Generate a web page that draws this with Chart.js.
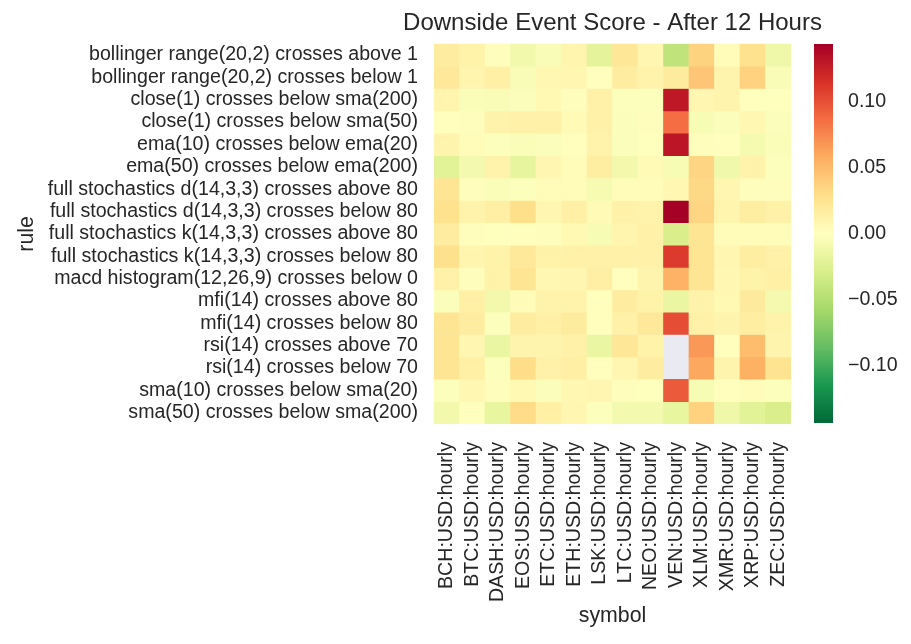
<!DOCTYPE html>
<html lang="en">
  <head>
    <meta charset="UTF-8" />
    <title>Downside Event Score - After 12 Hours</title>
    <script src="https://cdn.jsdelivr.net/npm/chart.js"></script>
    <style>
      html, body { margin: 0; padding: 0; background: #fff; }
      .wrap { position: relative; width: 911px; height: 644px; }
      .wrap canvas { position: absolute; left: 0; top: 0; }
    </style>
  </head>
  <body>
    <div class="wrap">
      <canvas id="heatmap" width="911" height="644"></canvas>
      <canvas id="colorbar" width="911" height="644"></canvas>
    </div>

    <script>
      var symbols = [
        "BCH:USD:hourly", "BTC:USD:hourly", "DASH:USD:hourly", "EOS:USD:hourly",
        "ETC:USD:hourly", "ETH:USD:hourly", "LSK:USD:hourly", "LTC:USD:hourly",
        "NEO:USD:hourly", "VEN:USD:hourly", "XLM:USD:hourly", "XMR:USD:hourly",
        "XRP:USD:hourly", "ZEC:USD:hourly"
      ];

      var rules = [
        "bollinger range(20,2) crosses above 1",
        "bollinger range(20,2) crosses below 1",
        "close(1) crosses below sma(200)",
        "close(1) crosses below sma(50)",
        "ema(10) crosses below ema(20)",
        "ema(50) crosses below ema(200)",
        "full stochastics d(14,3,3) crosses above 80",
        "full stochastics d(14,3,3) crosses below 80",
        "full stochastics k(14,3,3) crosses above 80",
        "full stochastics k(14,3,3) crosses below 80",
        "macd histogram(12,26,9) crosses below 0",
        "mfi(14) crosses above 80",
        "mfi(14) crosses below 80",
        "rsi(14) crosses above 70",
        "rsi(14) crosses below 70",
        "sma(10) crosses below sma(20)",
        "sma(50) crosses below sma(200)"
      ];

      // one row per rule, one value per symbol (null = no data)
      var scores = [
        [0.017, 0.012, 0.002, -0.010, -0.005, 0.009, -0.020, 0.022, 0.008, -0.043, 0.036, 0.004, 0.027, -0.012],
        [0.020, 0.009, 0.014, -0.005, 0.007, 0.008, 0.001, 0.017, 0.011, 0.018, 0.044, 0.010, 0.037, -0.005],
        [0.009, -0.004, -0.005, -0.003, 0.006, 0.002, 0.013, -0.002, -0.002, 0.129, 0.008, 0.010, 0.001, -0.001],
        [0.001, 0.002, 0.011, 0.013, 0.013, 0.005, 0.013, -0.003, 0.002, 0.086, -0.006, -0.003, 0.007, -0.003],
        [0.010, 0.004, -0.002, -0.004, -0.003, 0.001, 0.011, -0.003, -0.001, 0.131, 0.002, 0.001, -0.008, -0.004],
        [-0.022, -0.009, 0.011, -0.018, 0.008, 0.003, 0.016, -0.010, 0.005, -0.006, 0.035, -0.011, 0.011, -0.002],
        [0.024, 0.002, -0.004, -0.002, 0.004, 0.004, -0.007, 0.003, 0.003, 0.007, 0.033, 0.008, 0.002, 0.002],
        [0.027, 0.011, 0.015, 0.029, 0.008, 0.014, 0.005, 0.013, 0.011, 0.144, 0.035, 0.009, 0.016, 0.013],
        [0.017, 0.002, -0.001, 0.001, 0.002, 0.006, -0.006, 0.009, 0.013, -0.028, 0.024, 0.003, 0.003, 0.003],
        [0.028, 0.009, 0.012, 0.021, 0.012, 0.013, 0.013, 0.013, 0.013, 0.110, 0.024, 0.008, 0.016, 0.013],
        [0.013, 0.002, 0.012, 0.024, 0.007, 0.008, 0.015, 0.001, 0.010, 0.055, 0.024, 0.007, 0.012, 0.014],
        [-0.003, 0.014, -0.010, 0.004, 0.011, 0.011, 0.001, 0.017, 0.012, -0.016, 0.011, 0.006, 0.019, -0.009],
        [0.024, 0.017, -0.002, 0.017, 0.014, 0.018, 0.001, 0.013, 0.020, 0.101, 0.013, 0.010, 0.016, 0.011],
        [0.024, 0.008, -0.016, 0.010, 0.010, 0.013, -0.016, 0.022, 0.012, null, 0.067, 0.001, 0.049, 0.010],
        [0.024, 0.014, -0.002, 0.030, 0.013, 0.015, 0.001, 0.008, 0.017, null, 0.060, 0.010, 0.056, 0.026],
        [-0.002, 0.007, 0.002, 0.006, -0.003, 0.007, 0.008, 0.002, -0.001, 0.095, -0.006, 0.001, 0.003, -0.002],
        [-0.010, -0.001, -0.017, 0.031, 0.014, 0.008, -0.002, -0.009, -0.009, -0.017, 0.037, -0.012, -0.022, -0.028]
      ];

      var vmin = -0.1436;
      var vmax = 0.1436;
      var cbarTicks = [-0.1, -0.05, 0, 0.05, 0.1];

      // RdYlGn reversed: low = green, high = red
      var palette = [
        "#006837", "#1a9850", "#66bd63", "#a6d96a", "#d9ef8b", "#ffffbf",
        "#fee08b", "#fdae61", "#f46d43", "#d73027", "#a50026"
      ];

      var textColor = "#262626";
      var fontFamily = "'Liberation Sans', Arial, sans-serif";

      function hexToRgb(h) {
        return [parseInt(h.substr(1, 2), 16), parseInt(h.substr(3, 2), 16), parseInt(h.substr(5, 2), 16)];
      }

      function scoreColor(v) {
        var t = (v - vmin) / (vmax - vmin);
        t = Math.max(0, Math.min(1, t));
        var pos = t * (palette.length - 1);
        var i = Math.min(Math.floor(pos), palette.length - 2);
        var f = pos - i;
        var a = hexToRgb(palette[i]);
        var b = hexToRgb(palette[i + 1]);
        var c = a.map(function (x, k) { return Math.round(x + (b[k] - x) * f); });
        return "rgb(" + c[0] + "," + c[1] + "," + c[2] + ")";
      }

      // masked cells show the axes background, like seaborn
      var areaBackground = {
        id: "areaBackground",
        beforeDatasetsDraw: function (chart) {
          var a = chart.chartArea;
          var ctx = chart.ctx;
          ctx.save();
          ctx.fillStyle = "#eaeaf2";
          ctx.fillRect(a.left, a.top, a.right - a.left, a.bottom - a.top);
          ctx.restore();
        }
      };

      // title stays centred on the plot but may run wider than it
      var wideTitle = {
        id: "wideTitle",
        afterLayout: function (chart) {
          var t = chart.titleBlock;
          if (!t) return;
          var mid = (chart.chartArea.left + chart.chartArea.right) / 2;
          t.left = mid - 300;
          t.right = mid + 300;
        }
      };

      var nRows = rules.length;

      var datasets = rules.map(function (rule, i) {
        var top = nRows - i;
        return {
          label: rule,
          data: scores[i].map(function (v) { return v === null ? null : [top - 1, top]; }),
          backgroundColor: scores[i].map(function (v) { return v === null ? "rgba(0,0,0,0)" : scoreColor(v); }),
          borderWidth: 0,
          grouped: false,
          barPercentage: 1,
          categoryPercentage: 1
        };
      });

      new Chart(document.getElementById("heatmap"), {
        type: "bar",
        data: { labels: symbols, datasets: datasets },
        plugins: [areaBackground, wideTitle],
        options: {
          responsive: false,
          animation: false,
          layout: { padding: { left: 0, right: 120, top: 0, bottom: 0 } },
          plugins: {
            legend: { display: false },
            tooltip: { enabled: false },
            title: {
              display: true,
              text: "Downside Event Score - After 12 Hours",
              fullSize: false,
              color: textColor,
              font: { family: fontFamily, size: 24, weight: "normal" },
              padding: { top: 9, bottom: 6 }
            }
          },
          scales: {
            x: {
              offset: true,
              grid: { display: false, drawTicks: false },
              border: { display: false },
              ticks: {
                autoSkip: false,
                minRotation: 90,
                maxRotation: 90,
                padding: 18,
                color: textColor,
                font: { family: fontFamily, size: 19.6 }
              },
              title: {
                display: true,
                text: "symbol",
                color: textColor,
                font: { family: fontFamily, size: 21.3 },
                padding: { top: 0, bottom: 15 }
              },
              afterFit: function (scale) { scale.height = 220; }
            },
            y: {
              type: "linear",
              min: 0,
              max: nRows,
              grid: { display: false, drawTicks: false },
              border: { display: false },
              afterBuildTicks: function (scale) {
                scale.ticks = rules.map(function (r, i) { return { value: i + 0.5 }; });
              },
              ticks: {
                autoSkip: false,
                padding: 16,
                color: textColor,
                font: { family: fontFamily, size: 19.6 },
                callback: function (value) { return rules[Math.round(nRows - 0.5 - value)]; }
              },
              title: {
                display: true,
                text: "rule",
                color: textColor,
                font: { family: fontFamily, size: 21.3 },
                padding: { top: 14, bottom: 0 }
              },
              afterFit: function (scale) { scale.width = 434; }
            }
          }
        }
      });

      // colour bar
      new Chart(document.getElementById("colorbar"), {
        type: "bar",
        data: {
          labels: ["scale"],
          datasets: [
            {
              data: [[vmin, vmax]],
              backgroundColor: function (context) {
                var a = context.chart.chartArea;
                if (!a) return palette[5];
                var g = context.chart.ctx.createLinearGradient(0, a.bottom, 0, a.top);
                palette.forEach(function (c, i) { g.addColorStop(i / (palette.length - 1), c); });
                return g;
              },
              borderWidth: 0,
              barPercentage: 1,
              categoryPercentage: 1
            }
          ]
        },
        options: {
          responsive: false,
          animation: false,
          layout: { padding: { left: 814, right: 0, top: 44, bottom: 221 } },
          plugins: { legend: { display: false }, tooltip: { enabled: false } },
          scales: {
            x: { display: false },
            y: {
              position: "right",
              min: vmin,
              max: vmax,
              grid: { display: false, drawTicks: false },
              border: { display: false },
              afterBuildTicks: function (scale) {
                scale.ticks = cbarTicks.map(function (v) { return { value: v }; });
              },
              ticks: {
                padding: 15,
                color: textColor,
                font: { family: fontFamily, size: 19.6 },
                callback: function (v) { return (v < 0 ? "\u2212" : "") + Math.abs(v).toFixed(2); }
              },
              afterFit: function (scale) { scale.width = 78; }
            }
          }
        }
      });
    </script>
  </body>
</html>
